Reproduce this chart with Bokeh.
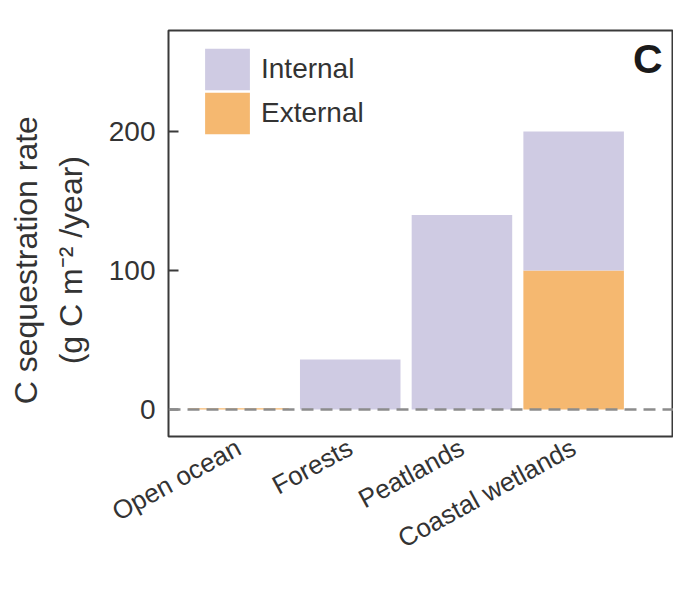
from bokeh.plotting import figure
from bokeh.models import (ColumnDataSource, Span, Label, Legend, LegendItem,
                          LinearAxis, FixedTicker, Range1d)
from bokeh.embed import file_html
from bokeh.resources import INLINE

categories = ["Open ocean", "Forests", "Peatlands", "Coastal wetlands"]
external = [1, 0, 0, 100]
internal = [0, 36, 140, 100]
y_ticks = [0, 100, 200]

x_pos = list(range(len(categories)))
src = ColumnDataSource(dict(x=x_pos, external=external, internal=internal))

FONT = "Liberation Sans"
TXT = "#333333"
C_INT = "#cfcbe3"
C_EXT = "#f5b870"
PAD = "\u00a0" * 6

p = figure(width=673, height=573, output_backend="svg", toolbar_location=None,
           x_range=Range1d(-0.627, 3.894), y_range=Range1d(-19.4, 272.7),
           min_border_left=168, min_border_right=0, min_border_top=30,
           min_border_bottom=137)

rs = p.vbar_stack(["external", "internal"], x="x", width=0.9, source=src,
                  fill_color=[C_EXT, C_INT], line_color=None)

p.xgrid.visible = False
p.ygrid.visible = False
p.outline_line_color = "#3a3a3a"
p.outline_line_width = 2
p.background_fill_color = "white"
p.border_fill_color = "white"

xa = p.xaxis[0]
xa.ticker = FixedTicker(ticks=x_pos)
xa.major_label_overrides = {i: c for i, c in zip(x_pos, categories)}
xa.major_label_orientation = 0.5
xa.axis_line_color = None
xa.major_tick_line_color = None
xa.major_tick_in = 0
xa.major_tick_out = 0
xa.minor_tick_line_color = None
xa.major_label_text_font = FONT
xa.major_label_text_font_size = "26px"
xa.major_label_text_color = TXT
xa.major_label_standoff = 9

ya = p.yaxis[0]
ya.ticker = FixedTicker(ticks=y_ticks)
ya.major_tick_in = 10
ya.major_tick_out = 0
ya.major_tick_line_width = 2
ya.major_tick_line_color = "#3a3a3a"
ya.minor_tick_line_color = None
ya.axis_line_color = None
ya.major_label_text_font = FONT
ya.major_label_text_font_size = "28px"
ya.major_label_text_color = TXT
ya.major_label_standoff = 13
ya.axis_label = "(g C m\u207b\u00b2 /year)" + PAD
ya.axis_label_text_font = FONT
ya.axis_label_text_font_size = "32px"
ya.axis_label_text_font_style = "normal"
ya.axis_label_text_color = TXT
ya.axis_label_standoff = 17

extra = LinearAxis(ticker=FixedTicker(ticks=[]), axis_label="C sequestration rate" + PAD,
                   axis_line_color=None, major_tick_line_color=None,
                   minor_tick_line_color=None, major_label_text_font_size="0px",
                   axis_label_text_font=FONT, axis_label_text_font_size="32px",
                   axis_label_text_font_style="normal", axis_label_text_color=TXT,
                   axis_label_standoff=6)
p.add_layout(extra, "left")

common = dict(glyph_width=56, glyph_height=52, label_text_font=FONT,
              label_text_font_size="28px", label_text_color=TXT, spacing=0,
              padding=0, margin=0, border_line_color=None,
              background_fill_alpha=0, label_standoff=6)
leg_int = Legend(items=[LegendItem(label="Internal", renderers=[rs[1]])],
                 location=(31, 341), **common)
leg_ext = Legend(items=[LegendItem(label="External", renderers=[rs[0]])],
                 location=(31, 297), **common)
p.add_layout(leg_int)
p.add_layout(leg_ext)

p.add_layout(Span(location=0, dimension="width", line_color="#8c8c8c",
                  line_width=2.5, line_dash="12 7"))

p.add_layout(Label(x=3.796, y=252.5, text="C", text_font="Liberation Sans",
                   text_font_size="41px", text_font_style="bold",
                   text_align="right", text_baseline="middle",
                   text_color="#1a1a1a"))

open("out.html", "w").write(file_html(p, INLINE))
